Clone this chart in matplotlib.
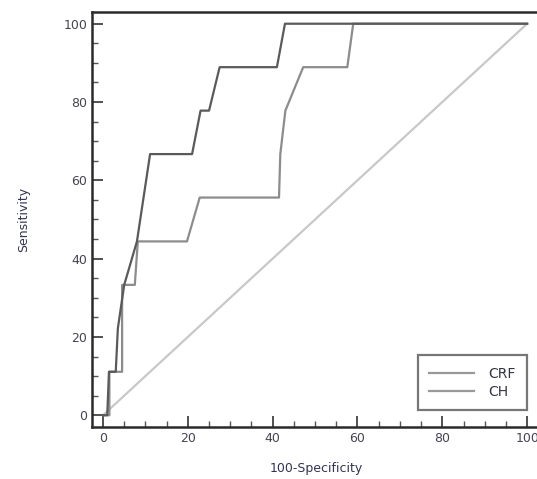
import matplotlib.pyplot as plt
from matplotlib.ticker import MultipleLocator

# ROC curves (100-Specificity, Sensitivity)
crf_x = [0, 1.5, 1.5, 4.5, 4.5, 7.5, 8.2, 19.8, 22.8, 41.5, 41.8, 43.0, 47.2, 57.6, 59.0, 100]
crf_y = [0, 0, 11.1, 11.1, 33.3, 33.3, 44.4, 44.4, 55.6, 55.6, 66.7, 77.8, 88.9, 88.9, 100, 100]

ch_x = [0, 1.0, 1.4, 3.0, 3.5, 5.0, 8.0, 11.1, 21.0, 23.0, 25.0, 27.5, 41.0, 42.9, 100]
ch_y = [0, 0, 11.1, 11.1, 22.2, 33.3, 44.4, 66.7, 66.7, 77.8, 77.8, 88.9, 88.9, 100, 100]

ref_x = [0, 100]
ref_y = [0, 100]

fig = plt.figure(figsize=(5.37, 4.79), dpi=100)
ax = fig.add_axes([0.1713, 0.1086, 0.834, 0.8664])

ax.plot(ref_x, ref_y, color='#c8c8c8', linewidth=1.6, zorder=1)
ax.plot(crf_x, crf_y, color='#8c8c8c', linewidth=1.6, label='CRF', zorder=2)
ax.plot(ch_x, ch_y, color='#5a5a5a', linewidth=1.6, label='CH', zorder=3)

ax.set_xlim(-2.6, 103)
ax.set_ylim(-3, 103)

ax.xaxis.set_major_locator(MultipleLocator(20))
ax.xaxis.set_minor_locator(MultipleLocator(5))
ax.yaxis.set_major_locator(MultipleLocator(20))
ax.yaxis.set_minor_locator(MultipleLocator(5))
ax.tick_params(which='major', direction='in', length=8, width=1.2, color='#333333',
               labelsize=9, labelcolor='#444450')
ax.tick_params(which='minor', direction='in', length=4, width=1.0, color='#555555')

for side in ['left', 'bottom', 'top']:
    ax.spines[side].set_linewidth(1.8)
    ax.spines[side].set_color('#2a2a2a')
ax.spines['right'].set_visible(False)

ax.set_xlabel('100-Specificity', fontsize=9, color='#333355', labelpad=12)
ax.set_ylabel('Sensitivity', fontsize=9, color='#333355', labelpad=24)

leg = ax.legend(loc='lower right', bbox_to_anchor=(0.962, 0.05), fontsize=10,
                frameon=True, fancybox=False, handlelength=3.2, handletextpad=1.0,
                borderpad=0.55, borderaxespad=0, labelspacing=0.25)
leg.get_frame().set_edgecolor('#555555')
leg.get_frame().set_linewidth(1.6)
leg.get_frame().set_boxstyle('square', pad=0.3)
for t in leg.get_texts():
    t.set_color('#333344')
for h in leg.get_lines():
    h.set_color('#999999')

fig.savefig('out.png', dpi=100)
